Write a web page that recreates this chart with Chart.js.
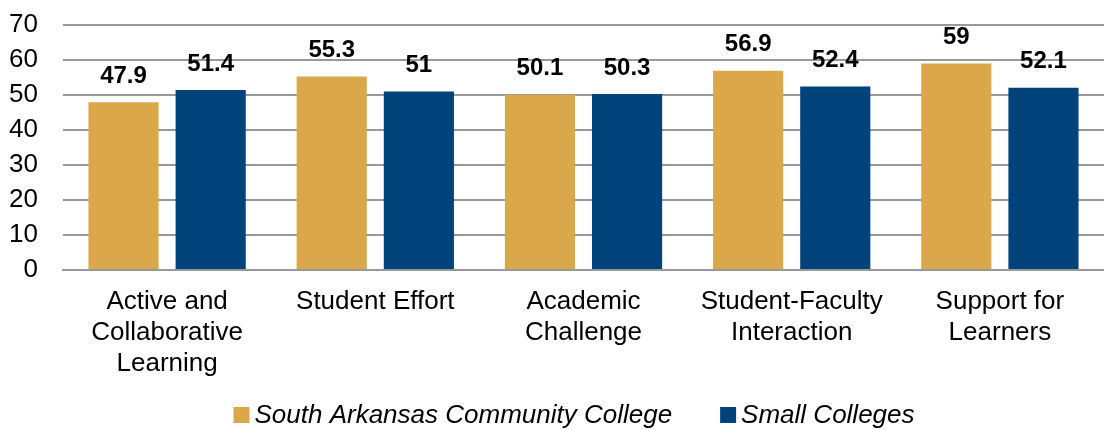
<!DOCTYPE html>
<html>
<head>
<meta charset="utf-8">
<script src="https://cdn.jsdelivr.net/npm/chart.js@4"></script>
<style>
  html, body { margin: 0; padding: 0; background: #fff; }
  #wrap { width: 1104px; height: 430px; }
</style>
</head>
<body>
<div id="wrap"><canvas id="chart"></canvas></div>
<script>
const categories = [
  ['Active and', 'Collaborative', 'Learning'],
  ['Student Effort'],
  ['Academic', 'Challenge'],
  ['Student-Faculty', 'Interaction'],
  ['Support for', 'Learners']
];
const southArkansas = [47.9, 55.3, 50.1, 56.9, 59];
const smallColleges = [51.4, 51, 50.3, 52.4, 52.1];
const yTicks = [0, 10, 20, 30, 40, 50, 60, 70];

const FONT = '"Liberation Sans", Arial, sans-serif';

// labels drawn above every bar
const valueLabels = {
  id: 'valueLabels',
  afterDatasetsDraw(chart) {
    const ctx = chart.ctx;
    ctx.save();
    ctx.font = 'bold 24px ' + FONT;
    ctx.fillStyle = '#000';
    ctx.textAlign = 'center';
    ctx.textBaseline = 'middle';
    chart.data.datasets.forEach((ds, i) => {
      chart.getDatasetMeta(i).data.forEach((bar, j) => {
        ctx.fillText(String(ds.data[j]), bar.x, bar.y - 26);
      });
    });
    ctx.restore();
  }
};

// legend at the bottom, drawn by hand so the spacing matches
const bottomLegend = {
  id: 'bottomLegend',
  afterDraw(chart) {
    const ctx = chart.ctx;
    const box = 16, gap = 5, between = 48, y = 415;
    ctx.save();
    ctx.font = 'italic 26px ' + FONT;
    ctx.textBaseline = 'middle';
    const items = chart.data.datasets.map(ds => ({
      text: ds.label, color: ds.backgroundColor, w: box + gap + ctx.measureText(ds.label).width
    }));
    const total = items.reduce((s, it) => s + it.w, 0) + between * (items.length - 1);
    let x = chart.width / 2 + 22 - total / 2;
    items.forEach(it => {
      ctx.fillStyle = it.color;
      ctx.fillRect(x, y - box / 2, box, box);
      ctx.fillStyle = '#000';
      ctx.fillText(it.text, x + box + gap, y + 1);
      x += it.w + between;
    });
    ctx.restore();
  }
};

new Chart(document.getElementById('chart'), {
  type: 'bar',
  data: {
    labels: categories,
    datasets: [
      { label: 'South Arkansas Community College', data: southArkansas, backgroundColor: '#DAA84A' },
      { label: 'Small Colleges', data: smallColleges, backgroundColor: '#00437B' }
    ]
  },
  options: {
    responsive: true,
    maintainAspectRatio: false,
    animation: false,
    layout: { padding: { top: 25, right: 0, left: 0, bottom: 42 } },
    datasets: { bar: { categoryPercentage: 0.837, barPercentage: 0.805 } },
    plugins: {
      legend: { display: false },
      tooltip: { enabled: false }
    },
    scales: {
      x: {
        afterFit: axis => { axis.height = 118; },
        grid: { display: false },
        border: { display: true, color: '#999', width: 2 },
        ticks: {
          color: '#000',
          font: { family: FONT, size: 26, lineHeight: 1.2 },
          maxRotation: 0,
          autoSkip: false,
          padding: 8
        }
      },
      y: {
        min: 0,
        max: 70,
        afterBuildTicks: axis => { axis.ticks = yTicks.map(v => ({ value: v })); },
        // fixed width; drop the extra top padding that tick padding adds
        afterFit: axis => { axis.width = 63; axis.paddingTop = 0; axis.paddingBottom = 0; },
        grid: { color: '#999', lineWidth: 2, drawTicks: false },
        border: { display: false },
        ticks: {
          color: '#000',
          font: { family: FONT, size: 26 },
          autoSkip: false,
          padding: 25
        }
      }
    }
  },
  plugins: [valueLabels, bottomLegend]
});
</script>
</body>
</html>
